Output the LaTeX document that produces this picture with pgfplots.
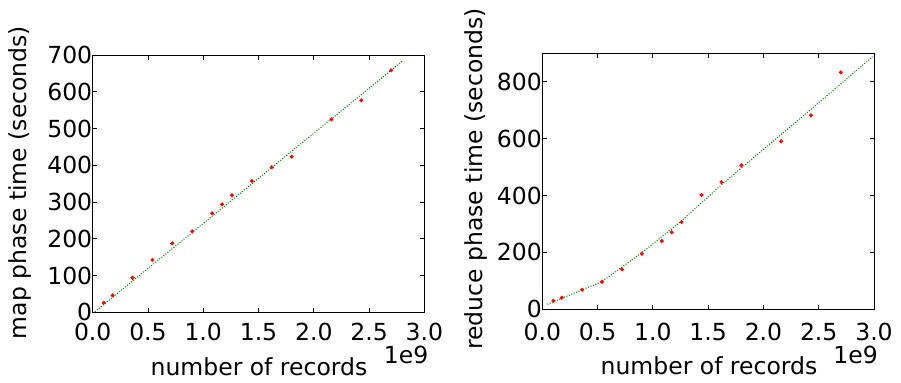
\documentclass[border=0pt]{standalone}
\usepackage{pgfplots}
\pgfplotsset{compat=1.18}
\usepackage{fontspec}
\setmainfont{DejaVu Sans}
\definecolor{mplgreen}{rgb}{0,0.5,0}
\pgfplotsset{
  myax/.style={
    scale only axis, anchor=south west,
    xmin=0, xmax=3,
    xtick={0,0.5,1,1.5,2,2.5,3},
    /pgf/number format/assume math mode=true,
    xticklabel style={/pgf/number format/fixed, /pgf/number format/fixed zerofill, /pgf/number format/precision=1},
    yticklabel style={/pgf/number format/fixed, /pgf/number format/precision=0},
    yticklabel style={anchor=east, inner sep=0pt, xshift=-0.3bp},
    tick align=inside, xtick pos=both, ytick pos=both,
    major tick length=4.5bp,
    tick style={black, line width=0.8bp},
    axis line style={black, line width=1bp},
    minor tick num=0,
    scaled x ticks=false, scaled y ticks=false,
  },
  dots/.style={only marks, mark=*, mark size=1.8bp, mark options={draw=red, fill=red}},
  fit/.style={mplgreen, line width=1bp, dash pattern=on 1bp off 1.6bp, no marks},
}
\begin{document}
\fontsize{23.5bp}{28bp}\selectfont
\begin{tikzpicture}
\useasboundingbox (0,0) rectangle (901bp,383bp);
% left: map phase
\begin{axis}[myax, at={(92.7bp,70.7bp)}, width=331.6bp, height=257.3bp,
  ymin=0, ymax=700, ytick={0,100,200,300,400,500,600,700},
  xticklabel style={anchor=north, inner sep=0pt, yshift=-11bp}]
\addplot[fit] coordinates {(0.02,1.5) (2.80,683)};
\addplot[dots] coordinates {
(0.10,26.1) (0.18,46.2) (0.36,94.1) (0.54,142.3) (0.72,187.7)
(0.90,220.4) (1.08,269.3) (1.17,293.8) (1.26,318.3) (1.44,357.2)
(1.62,394.5) (1.80,423.3) (2.16,525.1) (2.43,576.8) (2.70,658.4)};
\end{axis}
% right: reduce phase
\begin{axis}[myax, at={(542.3bp,73.7bp)}, width=331.7bp, height=256bp,
  ymin=0, ymax=900, ytick={0,200,400,600,800},
  xticklabel style={anchor=north, inner sep=0pt, yshift=-13.4bp}]
\addplot[fit] coordinates {(0.045,17.6) (0.537,97) (0.893,196.9) (1.239,304.4) (1.607,433.1) (2.315,665.5) (2.988,888)};
\addplot[dots] coordinates {
(0.10,30.2) (0.175,40.8) (0.36,68.9) (0.54,97) (0.72,140.6)
(0.90,195.5) (1.08,240.1) (1.17,270.7) (1.26,306.9) (1.44,401.8)
(1.62,447.5) (1.80,506.2) (2.16,590.6) (2.43,682) (2.70,833.2)};
\end{axis}
% labels
\node[rotate=90, anchor=center, inner sep=0pt] at (20bp,200.5bp) {map phase time (seconds)};
\node[rotate=90, anchor=center, inner sep=0pt] at (476bp,204bp) {reduce phase time (seconds)};
\node[anchor=base, inner sep=0pt] at (259bp,7.7bp) {number of records};
\node[anchor=base, inner sep=0pt] at (709bp,8.5bp) {number of records};
\node[anchor=base east, inner sep=0pt] at (428.5bp,19.7bp) {1e9};
\node[anchor=base east, inner sep=0pt] at (878bp,19.5bp) {1e9};
\end{tikzpicture}
\end{document}
